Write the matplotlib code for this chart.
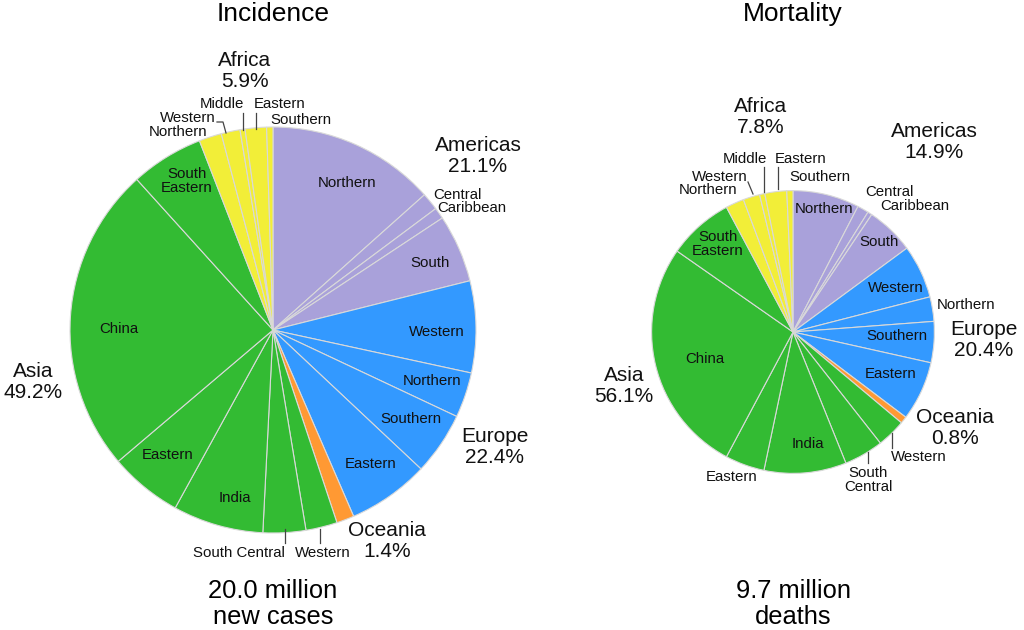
import numpy as np
import matplotlib
matplotlib.use('Agg')
import matplotlib.pyplot as plt

plt.rcParams['font.family'] = ['Liberation Sans', 'DejaVu Sans']

# ---- data (percent of world total) ----
groups = ['Americas', 'Europe', 'Oceania', 'Asia', 'Africa']
group_colors = ['#a9a1da', '#3399ff', '#ff9933', '#33bb33', '#f2ee38']

americas_sub = ['Northern', 'Central', 'Caribbean', 'South']
europe_sub = ['Western', 'Northern', 'Southern', 'Eastern']
oceania_sub = ['']
asia_sub = ['Western', 'South Central', 'India', 'Eastern', 'China', 'South Eastern']
africa_sub = ['Northern', 'Western', 'Middle', 'Eastern', 'Southern']
sub_names = [americas_sub, europe_sub, oceania_sub, asia_sub, africa_sub]

inc_group_pct = [21.1, 22.4, 1.4, 49.2, 5.9]
inc_americas = [13.4, 1.4, 0.9, 5.4]
inc_europe = [7.3, 3.6, 5.0, 6.5]
inc_oceania = [1.4]
inc_asia = [2.5, 3.4, 7.2, 5.8, 24.5, 5.8]
inc_africa = [1.8, 1.5, 0.4, 1.7, 0.5]
inc_total = 20.0  # million new cases

mort_group_pct = [14.9, 20.4, 0.8, 56.1, 7.8]
mort_americas = [7.6, 1.3, 0.5, 5.5]
mort_europe = [6.1, 2.8, 4.7, 6.8]
mort_oceania = [0.8]
mort_asia = [3.3, 4.5, 9.4, 4.5, 26.9, 7.5]
mort_africa = [2.1, 1.9, 0.6, 2.5, 0.7]
mort_total = 9.7  # million deaths

W, H = 1024, 630
def Y(y):
    # pixel row from top -> data y
    return H - y

# ---- layout (pixel positions, top origin) ----
inc_layout = {
    'center': (273, 330),
    'title': 'Incidence',
    'bottom': '20.0 million\nnew cases',
    'group_pos': [(478, 156), (495, 447), (387, 541), (33, 382), (245, 71)],
    'sub_pos': [
        [(347, 183), (457, 195), (472, 208), (430, 263)],
        [(437, 332), (432, 381), (411, 419), (371, 464)],
        [None],
        [(323, 553), (239, 553), (235, 498), (168, 455), (119, 329), (187, 181)],
        [(178, 132), (188, 118), (222, 104), (280, 104), (301, 120)],
    ],
    'leaders': [
        [(320, 529), (320, 543)],
        [(285, 529), (285, 543)],
        [(217, 122), (223, 122), (226, 133)],
        [(243, 113), (243, 130)],
        [(256, 113), (256, 129)],
    ],
}
mort_layout = {
    'center': (793, 332),
    'title': 'Mortality',
    'bottom': '9.7 million\ndeaths',
    'group_pos': [(934, 142), (984, 340), (955, 428), (624, 386), (761, 117)],
    'sub_pos': [
        [(824, 209), (889, 192), (915, 206), (879, 242)],
        [(896, 288), (966, 305), (897, 336), (891, 374)],
        [None],
        [(919, 457), (868, 480), (808, 444), (732, 477), (705, 359), (718, 244)],
        [(708, 190), (720, 177), (745, 159), (801, 159), (820, 177)],
    ],
    'leaders': [
        [(892, 433), (892, 448)],
        [(868, 452), (868, 463)],
        [(748, 182), (753, 194)],
        [(764, 167), (764, 192)],
        [(778, 167), (778, 189)],
    ],
}

base_radius = 203  # pixels for 20 million; area scales with total


def draw_pie(ax, subvals, group_pct, total, layout):
    vals = []
    cols = []
    for g, sv in enumerate(subvals):
        vals += sv
        cols += [group_colors[g]] * len(sv)
    cx, cy = layout['center']
    r = base_radius * np.sqrt(total / inc_total)
    ax.pie(vals, colors=cols, startangle=90, counterclock=False,
           center=(cx, Y(cy)), radius=r,
           wedgeprops=dict(edgecolor='#d9d9d9', linewidth=0.8))

    for g, name in enumerate(groups):
        x, y = layout['group_pos'][g]
        ax.text(x, Y(y), f'{name}\n{group_pct[g]:.1f}%', ha='center', va='center',
                fontsize=15, linespacing=1.07, color='#111111')
        for s, sname in enumerate(sub_names[g]):
            p = layout['sub_pos'][g][s]
            if p is None:
                continue
            label = sname
            if sname == 'South Eastern':
                label = 'South\nEastern'
            if sname == 'South Central' and layout['title'] == 'Mortality':
                label = 'South\nCentral'
            ax.text(p[0], Y(p[1]), label, ha='center', va='center',
                    fontsize=10.8, linespacing=1.08, color='#111111')

    for pts in layout['leaders']:
        xs = [p[0] for p in pts]
        ys = [Y(p[1]) for p in pts]
        ax.plot(xs, ys, color='#444444', lw=0.9)

    ax.text(cx, Y(14), layout['title'], ha='center', va='center', fontsize=19)
    ax.text(cx, Y(604), layout['bottom'], ha='center', va='center',
            fontsize=18.4, linespacing=1.07)


fig = plt.figure(figsize=(W / 100, H / 100), dpi=100)
ax = fig.add_axes([0, 0, 1, 1])

draw_pie(ax, [inc_americas, inc_europe, inc_oceania, inc_asia, inc_africa],
         inc_group_pct, inc_total, inc_layout)
draw_pie(ax, [mort_americas, mort_europe, mort_oceania, mort_asia, mort_africa],
         mort_group_pct, mort_total, mort_layout)

ax.set_xlim(0, W)
ax.set_ylim(0, H)
ax.set_aspect('equal')
ax.axis('off')

fig.savefig('out.png', dpi=100, facecolor='white')
